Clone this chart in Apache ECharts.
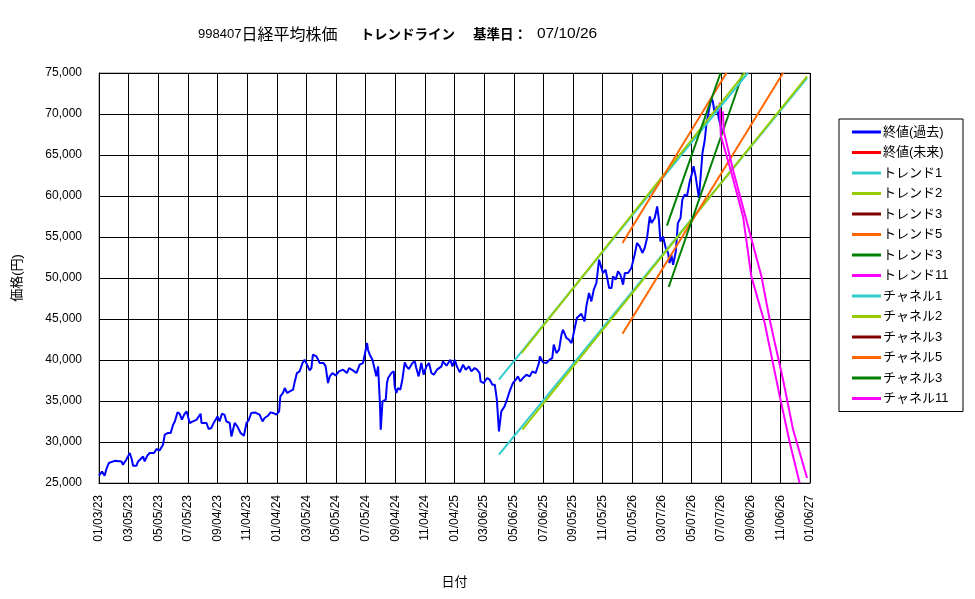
<!DOCTYPE html>
<html>
<head>
<meta charset="utf-8">
<script src="https://cdn.jsdelivr.net/npm/echarts@6/dist/echarts.min.js"></script>
<style>
  html, body { margin: 0; padding: 0; background: #fff; }
  #chart { width: 975px; height: 599px; }
</style>
</head>
<body>
<div id="chart"></div>
<script>
// x軸ラベル (目盛り位置 0..24)
var xLabels = ["01/03/23", "03/05/23", "05/05/23", "07/05/23", "09/04/23", "11/04/23",
  "01/04/24", "03/05/24", "05/05/24", "07/05/24", "09/04/24", "11/04/24",
  "01/04/25", "03/06/25", "05/06/25", "07/06/25", "09/05/25", "11/05/25",
  "01/05/26", "03/07/26", "05/07/26", "07/07/26", "09/06/26", "11/06/26", "01/06/27"];

// 終値(過去): 位置(目盛り単位) と 値
var closeX = [0, 0.10, 0.19, 0.25, 0.33, 0.53, 0.76, 0.81, 0.92, 1.04, 1.11, 1.15, 1.26, 1.32, 1.49, 1.54, 1.63, 1.71, 1.86, 1.94,
  2.05, 2.16, 2.22, 2.33, 2.42, 2.50, 2.56, 2.65, 2.72, 2.80, 2.89, 2.96, 3.06, 3.17, 3.29, 3.43, 3.46, 3.63, 3.70, 3.79,
  3.88, 4.00, 4.07, 4.15, 4.24, 4.30, 4.41, 4.47, 4.58, 4.67, 4.78, 4.89, 4.98, 5.05, 5.14, 5.26, 5.31, 5.42, 5.52, 5.59,
  5.70, 5.79, 5.87, 5.99, 6.08, 6.12, 6.21, 6.27, 6.35, 6.44, 6.55, 6.61, 6.68, 6.77, 6.87, 6.94, 7.00, 7.05, 7.11, 7.17,
  7.22, 7.28, 7.34, 7.45, 7.58, 7.65, 7.73, 7.79, 7.88, 7.99, 8.10, 8.24, 8.37, 8.44, 8.57, 8.69, 8.80, 8.91, 8.97, 9.05,
  9.08, 9.14, 9.23, 9.31, 9.36, 9.42, 9.48, 9.51, 9.57, 9.68, 9.72, 9.76, 9.87, 9.95, 9.98, 10.04, 10.09, 10.17, 10.24, 10.32,
  10.38, 10.46, 10.58, 10.66, 10.71, 10.79, 10.88, 10.96, 11.05, 11.14, 11.22, 11.30, 11.41, 11.56, 11.61, 11.73, 11.86, 11.93, 12.01, 12.08,
  12.18, 12.29, 12.38, 12.49, 12.57, 12.68, 12.76, 12.85, 12.88, 12.99, 13.10, 13.19, 13.28, 13.36, 13.43, 13.50, 13.58, 13.69, 13.77, 13.86,
  13.97, 14.07, 14.14, 14.22, 14.31, 14.43, 14.54, 14.63, 14.74, 14.85, 14.88, 14.99, 15.10, 15.21, 15.30, 15.35, 15.44, 15.53, 15.61, 15.66,
  15.78, 15.86, 15.95, 16.00, 16.13, 16.28, 16.39, 16.45, 16.54, 16.62, 16.70, 16.79, 16.88, 16.96, 17.01, 17.10, 17.22, 17.30, 17.35, 17.44,
  17.52, 17.60, 17.69, 17.75, 17.86, 17.97, 18.08, 18.16, 18.25, 18.34, 18.42, 18.50, 18.59, 18.65, 18.76, 18.84, 18.90, 18.95, 19.04, 19.13,
  19.21, 19.26, 19.32, 19.38, 19.47, 19.54, 19.63, 19.69, 19.77, 19.85, 19.94, 20.02, 20.07, 20.14, 20.19, 20.25, 20.30, 20.37, 20.45, 20.50,
  20.59, 20.67, 20.72, 20.78, 20.86, 20.92, 21.00, 21.04];
var closeY = [25890, 26400, 25900, 26700, 27440, 27700, 27630, 27230, 27840, 28660, 27840, 27100, 27100, 27630, 28240, 27630, 28330, 28660, 28660, 29150,
  28980, 29670, 30890, 31100, 31100, 32110, 32510, 33610, 33450, 32720, 33450, 33730, 32320, 32510, 32700, 33450, 32320, 32320, 31590, 31710,
  32390, 33120, 32510, 33450, 33300, 32510, 32320, 30680, 32320, 31900, 31100, 30770, 32320, 32640, 33540, 33610, 33610, 33330, 32510, 32930,
  33200, 33610, 33540, 33330, 33730, 35560, 35980, 36590, 35980, 36170, 36380, 37390, 38410, 38610, 39630, 40040, 40040, 39220, 38730, 39000,
  40650, 40850, 40440, 39630, 39630, 39220, 37190, 38000, 38410, 38100, 38610, 38820, 38410, 39020, 38730, 38410, 39430, 39630, 40650, 42070,
  41250, 40650, 40040, 38820, 38000, 39220, 34950, 31500, 34950, 35160, 37190, 37800, 38410, 38610, 36780, 35980, 36590, 36380, 37600, 39710,
  39220, 38900, 39630, 39830, 39020, 38000, 39630, 38200, 39220, 39630, 38410, 38200, 38820, 39220, 39830, 39300, 40040, 39220, 40040, 39220,
  38490, 39430, 38820, 39220, 38610, 39020, 38820, 38410, 37390, 37190, 37800, 37600, 36990, 36990, 35160, 31290, 33730, 34340, 35160, 36170,
  37190, 37600, 38000, 37390, 37800, 38200, 38000, 38610, 38410, 39630, 40440, 39710, 39630, 40040, 40240, 41870, 40850, 41260, 43080, 43700,
  42680, 42480, 42070, 42880, 45120, 45650, 44710, 46540, 48170, 47150, 48570, 49390, 52230, 51220, 50610, 51010, 48780, 48780, 50200, 49790,
  50810, 50400, 49180, 50610, 50610, 51220, 52840, 54270, 53860, 53050, 53660, 54880, 57510, 56710, 57320, 58730, 57110, 54460, 55070, 53660,
  53050, 51830, 52840, 51620, 53240, 56710, 57320, 59550, 60160, 60000, 61780, 62800, 63620, 62390, 61170, 59760, 61990, 65240, 66860, 68690,
  70520, 71950, 71540, 70120, 70930, 69510, 68290, 67680];

// トレンドライン / チャネル (端点)
var trend1X = [13.50, 23.90], trend1Y = [28450, 74390];
var trend2X = [14.29, 23.90], trend2Y = [31500, 74600];
var trend5X = [17.67, 23.09], trend5Y = [43210, 75000];
var trend3bX = [19.23, 21.74], trend3bY = [48900, 75000];
var trend11X = [20.95, 20.99, 21.35, 21.74, 22.02, 22.47, 22.98, 23.32, 23.65];
var trend11Y = [71410, 67350, 62800, 57510, 50200, 44510, 35560, 29880, 25000];
var chan1X = [13.50, 21.90], chan1Y = [37600, 75000];
var chan2X = [14.26, 21.80], chan2Y = [40850, 75000];
var chan5X = [17.67, 21.18], chan5Y = [54270, 75000];
var chan3bX = [19.17, 20.98], chan3bY = [56380, 75000];
var chan11X = [21.06, 21.09, 21.40, 21.85, 22.36, 22.64, 23.09, 23.43, 23.90];
var chan11Y = [70320, 67880, 63210, 57110, 50200, 44910, 37600, 31500, 25610];

var FONT = "'Liberation Sans', 'Noto Sans CJK JP', sans-serif";
var JFONT = "'Noto Sans CJK JP', sans-serif";

function pairs(xs, ys) {
  return xs.map(function (x, k) { return [x, ys[k]]; });
}

function lineSeries(name, color, data, width) {
  return {
    name: name,
    type: 'line',
    data: data,
    showSymbol: false,
    symbol: 'none',
    animation: false,
    lineStyle: { color: color, width: width || 2 },
    itemStyle: { color: color }
  };
}

var chart = echarts.init(document.getElementById('chart'));

var series = [
  lineSeries('終値(過去)', '#0000FF', pairs(closeX, closeY), 2),
  lineSeries('終値(未来)', '#FF0000', []),
  lineSeries('トレンド1', '#33CCCC', pairs(trend1X, trend1Y)),
  lineSeries('トレンド2', '#99CC00', pairs(trend2X, trend2Y)),
  lineSeries('トレンド3', '#800000', []),
  lineSeries('トレンド5', '#FF6600', pairs(trend5X, trend5Y)),
  lineSeries('トレンド3\u200b', '#008000', pairs(trend3bX, trend3bY)),
  lineSeries('トレンド11', '#FF00FF', pairs(trend11X, trend11Y)),
  lineSeries('チャネル1', '#33CCCC', pairs(chan1X, chan1Y)),
  lineSeries('チャネル2', '#99CC00', pairs(chan2X, chan2Y)),
  lineSeries('チャネル3', '#800000', []),
  lineSeries('チャネル5', '#FF6600', pairs(chan5X, chan5Y)),
  lineSeries('チャネル3\u200b', '#008000', pairs(chan3bX, chan3bY)),
  lineSeries('チャネル11', '#FF00FF', pairs(chan11X, chan11Y))
];

var titleStyle = function (family, size, weight, extra) {
  var s = { fontFamily: family, fontSize: size, fontWeight: weight, color: '#000', lineHeight: 20, verticalAlign: 'middle' };
  for (var k in extra || {}) { s[k] = extra[k]; }
  return s;
};

chart.setOption({
  backgroundColor: '#fff',
  animation: false,
  textStyle: { fontFamily: FONT },
  title: {
    left: 193,
    top: 19,
    text: '{n|998407}{j|日経平均株価}{sp| }{b|トレンドライン}{sp2| }{b|基準日：}{d|07/10/26}',
    textStyle: {
      fontWeight: 'normal',
      lineHeight: 20,
      rich: {
        n: titleStyle(FONT, 13, 'normal'),
        j: titleStyle(JFONT, 16, 'normal'),
        sp: { width: 23, lineHeight: 20 },
        sp2: { width: 18, lineHeight: 20 },
        b: titleStyle(JFONT, 13.5, 'bold'),
        d: titleStyle(FONT, 15.5, 'normal', { padding: [0, 0, 0, 10] })
      }
    }
  },
  grid: {
    left: 99, right: 165, top: 73, bottom: 116,
    show: true, borderColor: '#808080', borderWidth: 1, backgroundColor: '#fff'
  },
  legend: {
    orient: 'vertical',
    left: 839,
    top: 119,
    padding: [6, 6, 6, 13],
    itemGap: 6.5,
    itemWidth: 29,
    itemHeight: 3,
    icon: 'rect',
    borderColor: '#000',
    borderWidth: 1,
    selectedMode: false,
    textStyle: { fontFamily: FONT, fontSize: 13, color: '#000', lineHeight: 14, width: 74, padding: [0, 0, 0, -3] },
    data: series.map(function (s) { return s.name; })
  },
  xAxis: {
    type: 'value',
    min: 0,
    max: 24,
    interval: 1,
    name: '日付',
    nameLocation: 'middle',
    nameGap: 93,
    nameTextStyle: { fontFamily: FONT, fontSize: 13, color: '#000' },
    axisLine: { show: true, onZero: false, lineStyle: { color: '#000', width: 1 } },
    axisTick: { show: false },
    splitLine: { show: true, lineStyle: { color: '#000', width: 1 } },
    axisLabel: {
      rotate: 90,
      margin: 12,
      fontFamily: FONT,
      fontSize: 12,
      color: '#000',
      formatter: function (v) { return xLabels[Math.round(v)] || ''; }
    }
  },
  yAxis: {
    type: 'value',
    min: 25000,
    max: 75000,
    interval: 5000,
    name: '価格(円)',
    nameLocation: 'middle',
    nameGap: 75,
    nameRotate: 90,
    nameTextStyle: { fontFamily: FONT, fontSize: 13, color: '#000' },
    axisLine: { show: true, lineStyle: { color: '#000', width: 1 } },
    axisTick: { show: false },
    splitLine: { show: true, lineStyle: { color: '#000', width: 1 } },
    axisLabel: {
      margin: 17,
      fontFamily: FONT,
      fontSize: 12,
      color: '#000',
      formatter: function (v) { return v.toLocaleString('en-US'); }
    }
  },
  series: series
});
</script>
</body>
</html>
